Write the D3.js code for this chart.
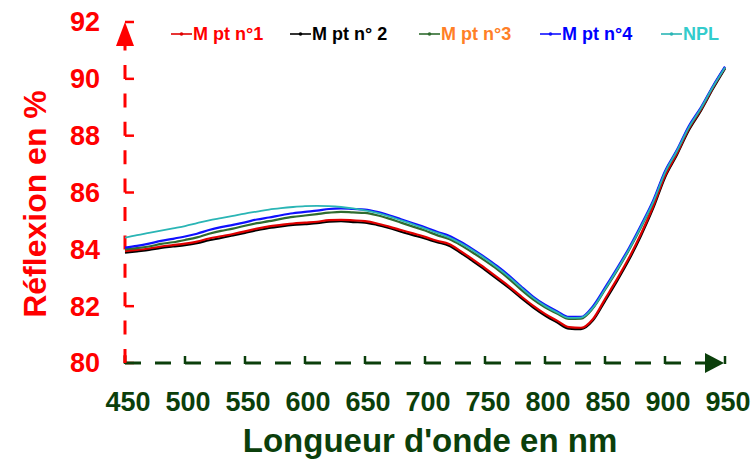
<!DOCTYPE html>
<html><head><meta charset="utf-8">
<script src="https://cdn.jsdelivr.net/npm/d3@7"></script>
<style>html,body{margin:0;padding:0;background:#fff;}svg{display:block;font-family:"Liberation Sans",Arial,sans-serif;font-weight:bold;}</style>
</head><body>
<svg id="c" width="752" height="461"></svg>
<script>
const wavelengths = [450,460,470,480,490,500,510,520,530,540,550,560,570,580,590,600,610,620,630,640,650,660,670,680,690,700,710,720,730,740,750,760,770,780,790,800,810,820,830,840,850,860,870,880,890,900,910,920,930,940,950];
const m1 = [83.94,83.98,84.03,84.10,84.15,84.20,84.27,84.38,84.46,84.54,84.63,84.73,84.81,84.86,84.91,84.94,84.97,85.03,85.04,85.02,84.99,84.91,84.80,84.68,84.56,84.44,84.30,84.19,83.93,83.64,83.34,83.02,82.70,82.35,82.02,81.73,81.49,81.26,81.24,81.55,82.25,82.95,83.70,84.55,85.50,86.59,87.38,88.25,88.92,89.69,90.39];
const m2 = [83.88,83.93,83.98,84.05,84.10,84.15,84.22,84.32,84.40,84.49,84.58,84.67,84.75,84.81,84.86,84.89,84.92,84.97,84.99,84.96,84.94,84.86,84.75,84.62,84.50,84.38,84.25,84.13,83.87,83.58,83.28,82.96,82.64,82.29,81.96,81.67,81.43,81.21,81.19,81.50,82.18,82.88,83.63,84.48,85.43,86.53,87.33,88.20,88.88,89.65,90.36];
const m3 = [84.00,84.04,84.10,84.19,84.25,84.33,84.42,84.55,84.65,84.73,84.83,84.92,84.99,85.07,85.14,85.19,85.24,85.29,85.32,85.30,85.28,85.20,85.08,84.94,84.80,84.66,84.50,84.36,84.14,83.88,83.60,83.30,82.96,82.58,82.24,81.96,81.74,81.55,81.56,81.93,82.58,83.25,83.98,84.78,85.65,86.70,87.46,88.30,88.96,89.72,90.40];
const m4 = [84.06,84.12,84.20,84.30,84.37,84.45,84.55,84.68,84.78,84.86,84.95,85.05,85.12,85.20,85.27,85.32,85.36,85.42,85.44,85.42,85.40,85.32,85.20,85.06,84.92,84.78,84.62,84.48,84.26,84.00,83.72,83.42,83.08,82.70,82.34,82.05,81.82,81.62,81.62,82.00,82.65,83.33,84.05,84.85,85.70,86.75,87.50,88.35,89.00,89.75,90.43];
const npl = [84.41,84.50,84.58,84.66,84.74,84.82,84.92,85.02,85.10,85.18,85.26,85.33,85.40,85.45,85.49,85.52,85.53,85.52,85.49,85.44,85.37,85.28,85.16,85.02,84.88,84.73,84.58,84.42,84.21,83.96,83.68,83.37,83.03,82.66,82.30,82.01,81.78,81.59,81.60,81.95,82.60,83.28,84.00,84.80,85.65,86.70,87.47,88.30,88.97,89.72,90.40];
const seriesNames = ["M pt n°1","M pt n° 2","M pt n°3","M pt n°4","NPL"];
const xTicks = [450,500,550,600,650,700,750,800,850,900,950];
const yTicks = [80,82,84,86,88,90,92];

const lineColors = ["#e00000","#000000","#2f6b2f","#1010ff","#2ab5b5"];
const textColors = ["#ff0000","#000000","#ff7f27","#0000ff","#33cccc"];
const seriesData = [m1,m2,m3,m4,npl];

const svg = d3.select("#c");
const x = d3.scaleLinear().domain([450,950]).range([125,725]);
const y = d3.scaleLinear().domain([80,92]).range([363,22]);
const red = "#ff0000", dg = "#0b3f0b";

// Y axis (red dashed)
svg.append("line").attr("x1",125).attr("x2",125).attr("y1",y(80)).attr("y2",44)
  .attr("stroke",red).attr("stroke-width",3).attr("stroke-dasharray","14 14.4");
svg.append("path").attr("d",`M125,${y(92)} L116,46 L134,46 Z`).attr("fill",red);
yTicks.forEach(t=>{
  svg.append("line").attr("x1",125).attr("x2",134).attr("y1",y(t)).attr("y2",y(t))
    .attr("stroke",red).attr("stroke-width",2.5);
});
svg.append("g").selectAll("text").data(yTicks).join("text")
  .attr("x",100).attr("y",d=>y(d)).attr("dy","0.35em").attr("text-anchor","end")
  .attr("fill",red).style("font-size","27px").text(d=>d);
svg.append("text").attr("transform","translate(46,204) rotate(-90)").attr("text-anchor","middle")
  .attr("fill",red).style("font-size","32px").text("Réflexion en %");

// X axis (dark green dashed)
svg.append("line").attr("x1",125).attr("x2",708).attr("y1",363).attr("y2",363)
  .attr("stroke",dg).attr("stroke-width",3).attr("stroke-dasharray","16 14");
svg.append("path").attr("d",`M724,363 L705,353 L705,373 Z`).attr("fill",dg);
xTicks.forEach(t=>{
  svg.append("line").attr("x1",x(t)).attr("x2",x(t)).attr("y1",364).attr("y2",356)
    .attr("stroke",dg).attr("stroke-width",2.5);
});
svg.append("line").attr("x1",125).attr("x2",125).attr("y1",363).attr("y2",355).attr("stroke",red).attr("stroke-width",3);
svg.append("g").selectAll("text").data(xTicks).join("text")
  .attr("x",d=>x(d)+3).attr("y",411).attr("text-anchor","middle")
  .attr("fill",dg).style("font-size","27px").text(d=>d);
svg.append("text").attr("x",430).attr("y",452).attr("text-anchor","middle")
  .attr("fill",dg).style("font-size","33px").text("Longueur d'onde en nm");

// Lines
const line = d3.line().x((d,i)=>x(wavelengths[i])).y(d=>y(d)).curve(d3.curveMonotoneX);
[1,0,2,3,4].forEach(k=>{
  svg.append("path").attr("d",line(seriesData[k])).attr("fill","none")
    .attr("stroke",lineColors[k]).attr("stroke-width",k===4?1.8:2.2).attr("stroke-linejoin","round");
});

// Legend
const legX = [171,290,419,540,661];
seriesNames.forEach((n,i)=>{
  const g = svg.append("g");
  g.append("line").attr("x1",legX[i]).attr("x2",legX[i]+21).attr("y1",34).attr("y2",34)
    .attr("stroke",lineColors[i]).attr("stroke-width",1.6);
  g.append("circle").attr("cx",legX[i]+10.5).attr("cy",34).attr("r",1.8).attr("fill",lineColors[i]);
  g.append("text").attr("x",legX[i]+22).attr("y",34).attr("dy","0.35em")
    .attr("fill",textColors[i]).style("font-size","18px").text(n);
});
</script>
</body></html>
